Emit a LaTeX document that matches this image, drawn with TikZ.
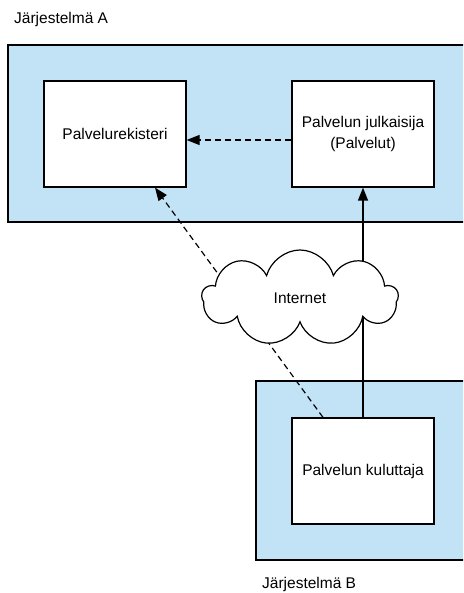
\documentclass[tikz,border=0pt]{standalone}
\usepackage{fontspec}
\setmainfont{Liberation Sans}
\usetikzlibrary{shapes.symbols,arrows.meta}
\definecolor{sysblue}{RGB}{193,227,245}
\begin{document}
\begin{tikzpicture}[x=1pt,y=-1pt,
  sysbox/.style={draw,fill=sysblue,line width=1.2pt},
  compbox/.style={draw,fill=white,line width=1.2pt,minimum width=142pt,minimum height=106pt,
    align=center,inner sep=0pt,font=\fontsize{15.5}{21}\selectfont},
  lbl/.style={anchor=base west,inner sep=0pt,font=\fontsize{15.5}{21}\selectfont},
  tip/.style={-{Triangle[length=13pt,width=10pt]},line width=1.2pt},
  dsh/.style={dash pattern=on 6pt off 4pt}]
  \useasboundingbox (0,0) rectangle (463,593);
  \clip (0,0) rectangle (463,593);
  % Jarjestelma A
  \node[lbl] (titleA) at (14,24) {Järjestelmä A};
  \draw[sysbox] (8,45) rectangle (480,222);
  \node[compbox] (rek) at (115,134) {Palvelurekisteri};
  \node[compbox] (julk) at (363,134) {Palvelun julkaisija\\(Palvelut)};
  % Jarjestelma B
  \draw[sysbox] (256,381) rectangle (480,560);
  \node[compbox] (kul) at (363,471) {Palvelun kuluttaja};
  \node[lbl] (titleB) at (262,588) {Järjestelmä B};
  % yhteydet
  \draw[tip,dsh] ([yshift=-6pt]julk.west) -- ([yshift=-6pt]rek.east);
  \draw[tip] (kul.north) -- (julk.south);
  \draw[tip,dsh] ([xshift=-40pt]kul.north) -- ([xshift=40pt]rek.south);
  % pilvi
  \node[cloud,draw,fill=white,line width=1.2pt,cloud puffs=9,aspect=2.1,
    minimum width=196pt,minimum height=96pt,font=\fontsize{15.5}{21}\selectfont] (net) at (300,298) {Internet};
\end{tikzpicture}
\end{document}
